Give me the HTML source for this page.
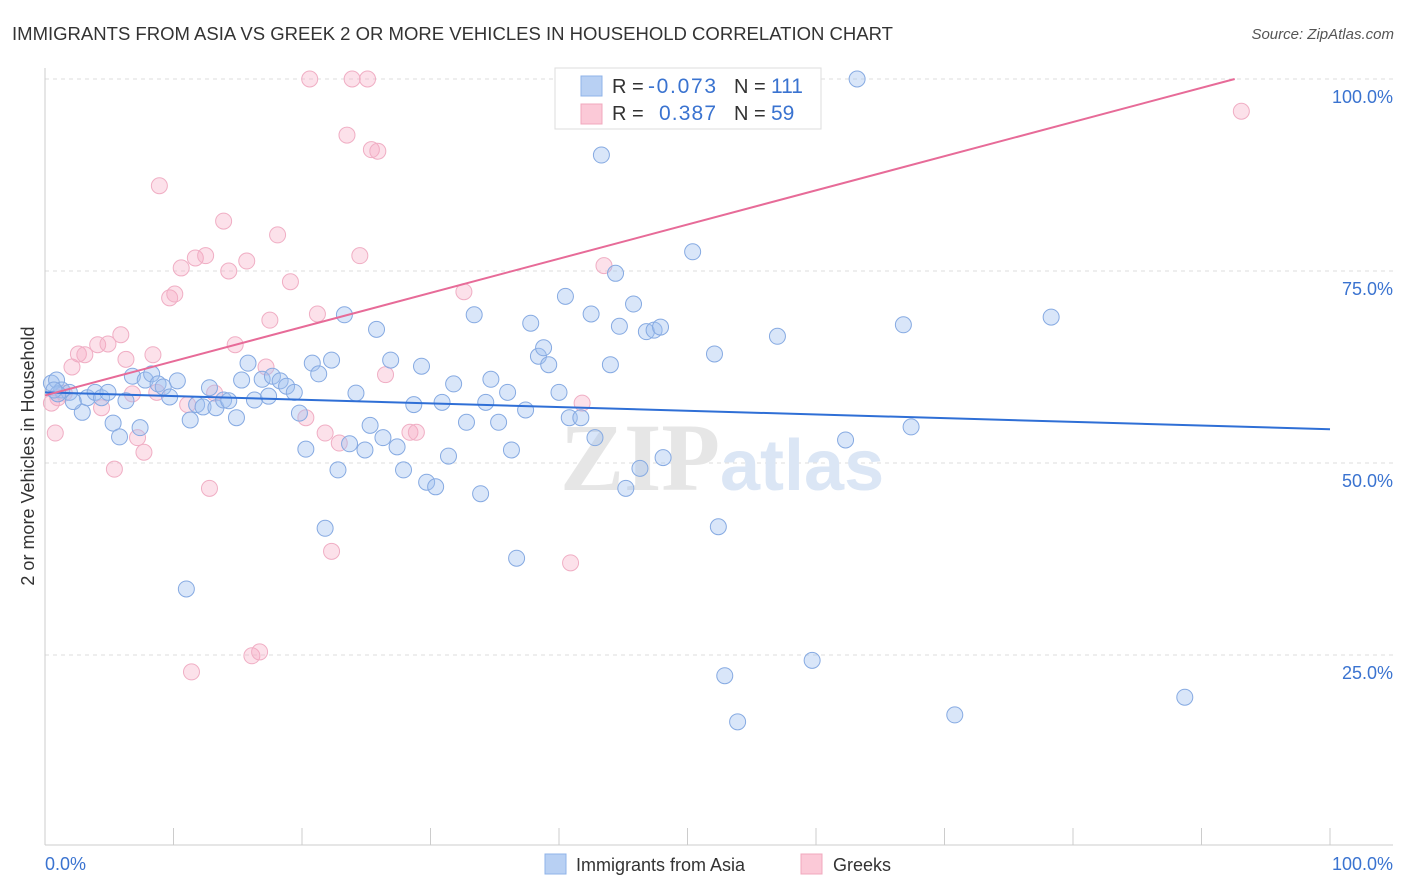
<!DOCTYPE html>
<html><head><meta charset="utf-8"><style>
body{margin:0;background:#fff;font-family:"Liberation Sans",sans-serif}
svg{display:block}
</style></head><body>
<svg id="chart" width="1406" height="892">
<text x="12" y="40" font-size="18" fill="#333" textLength="881" lengthAdjust="spacingAndGlyphs">IMMIGRANTS FROM ASIA VS GREEK 2 OR MORE VEHICLES IN HOUSEHOLD CORRELATION CHART</text>
<text x="1394" y="39" font-size="15" fill="#555" font-style="italic" text-anchor="end">Source: ZipAtlas.com</text>
<g id="grid"></g>
<text x="720" y="490" font-size="96" fill="#e6e6e6" text-anchor="end" font-weight="bold" font-family="Liberation Serif, serif">ZIP</text>
<text x="720" y="490" font-size="72" fill="#dbe6f5" font-weight="bold">atlas</text>
<g id="pts"></g>
<g id="trends"></g>
<text transform="translate(34,456) rotate(-90)" font-size="18" fill="#333" text-anchor="middle">2 or more Vehicles in Household</text>
<text x="45" y="870" font-size="18" fill="#3a73d0">0.0%</text>
<text x="1393" y="870" font-size="18" fill="#3a73d0" text-anchor="end">100.0%</text>
<g>
<rect x="555" y="68" width="266" height="61" fill="#fff" stroke="#ddd"/>
<rect x="581" y="76" width="21" height="20" fill="#b8d0f3" stroke="#8fb3e8"/>
<rect x="581" y="104" width="21" height="20" fill="#fbc9d7" stroke="#f0a8bd"/>
<text x="612" y="93" font-size="20" fill="#333">R =</text>
<text x="648" y="93" font-size="21" fill="#3a73d0" textLength="68">-0.073</text>
<text x="734" y="93" font-size="20" fill="#333">N =</text>
<text x="771" y="93" font-size="21" fill="#3a73d0">111</text>
<text x="612" y="120" font-size="20" fill="#333">R =</text>
<text x="659" y="120" font-size="21" fill="#3a73d0" textLength="57">0.387</text>
<text x="734" y="120" font-size="20" fill="#333">N =</text>
<text x="771" y="120" font-size="21" fill="#3a73d0">59</text>
</g>
<g>
<rect x="545" y="854" width="21" height="20" fill="#b8d0f3" stroke="#8fb3e8"/>
<text x="576" y="871" font-size="18" fill="#333">Immigrants from Asia</text>
<rect x="801" y="854" width="21" height="20" fill="#fbc9d7" stroke="#f0a8bd"/>
<text x="833" y="871" font-size="18" fill="#333">Greeks</text>
</g>
</svg>
<script>
const blueX=[0.5,0.9,1.3,1.9,2.9,3.3,3.9,4.4,4.9,5.3,5.8,6.3,6.8,7.4,7.8,8.3,8.8,9.2,9.7,10.3,11.0,11.3,11.8,12.3,12.8,13.3,13.9,14.3,14.9,15.3,15.8,16.3,16.9,17.4,17.7,18.3,18.8,19.4,19.8,20.3,20.8,21.3,21.8,22.3,22.8,23.3,23.7,24.2,24.9,25.3,25.8,26.3,26.9,27.4,27.9,28.7,29.3,29.7,30.4,30.9,31.4,31.8,32.8,33.4,33.9,34.3,34.7,35.3,36.0,36.3,36.7,37.4,37.8,38.4,38.8,39.2,40.0,40.5,40.8,41.7,42.5,42.8,43.3,44.0,44.4,44.7,45.2,45.8,46.3,46.8,47.4,47.9,48.1,50.4,52.1,52.4,52.9,53.9,57.0,59.7,62.3,63.2,66.8,67.4,70.8,78.3,88.7,53.5,1.0,0.7,2.2];
const blueY=[60.4,60.8,59.5,59.2,56.6,58.5,59.2,58.5,59.2,55.2,53.4,58.1,61.3,54.6,60.8,61.6,60.3,59.9,58.6,60.7,33.6,55.6,57.6,57.3,59.8,57.2,58.2,58.1,55.9,60.8,63.0,58.2,60.9,58.7,61.3,60.7,60.0,59.2,56.5,51.8,63.0,61.6,41.5,63.4,49.1,69.3,52.5,59.1,51.7,54.9,67.4,53.3,63.4,52.1,49.1,57.6,62.6,47.5,46.9,57.9,50.9,60.3,55.3,69.3,46.0,57.9,60.9,55.3,59.2,51.7,37.6,56.9,68.2,63.9,65.0,62.8,59.2,71.7,55.9,55.9,69.4,53.3,90.1,62.8,74.7,67.8,46.7,70.7,49.3,67.1,67.3,67.7,50.7,77.5,64.2,41.7,22.3,16.3,66.5,24.3,53.0,100,68.0,54.7,17.2,69.0,19.5,100,59.0,59.5,58.0];
const pinkX=[0.5,0.8,1.0,1.5,2.1,2.6,3.1,4.1,4.4,4.9,5.4,5.9,6.3,6.8,7.2,7.7,8.4,8.7,8.9,9.7,10.1,10.6,11.1,11.4,11.7,12.5,12.8,13.2,13.9,14.3,14.8,15.7,16.1,16.7,17.2,17.5,18.1,19.1,20.3,20.6,21.2,21.8,22.3,22.9,23.5,23.9,24.5,25.1,25.4,25.9,26.5,28.4,28.9,32.6,40.9,41.8,43.5,56.3,93.1,51.8];
const pinkY=[57.8,53.9,58.5,59.1,62.5,64.2,64.1,65.4,57.2,65.5,49.2,66.7,63.5,59.0,53.3,51.4,64.1,59.2,86.1,71.5,72.0,75.4,57.6,22.8,76.7,77.0,46.7,59.1,81.5,75.0,65.4,76.3,24.9,25.4,62.5,68.6,79.7,73.6,55.9,100,69.4,53.9,38.5,52.6,92.7,100,77.0,100,90.8,90.6,61.5,54.0,54.0,72.3,37.0,57.8,75.7,100,95.8,100];
const blueTrend=[59.2,54.4];
const pinkTrend=[58.8,103.3];
const yTicks=[25,50,75,100];
const yTickLabels=["25.0%","50.0%","75.0%","100.0%"];
const xTicks=[0,10,20,30,40,50,60,70,80,90,100];

const NS="http://www.w3.org/2000/svg";
const sx=v=>45+v*12.85;
const sy=v=>847-v*7.68;
function mk(t,a,p){const e=document.createElementNS(NS,t);for(const k in a)e.setAttribute(k,a[k]);p.appendChild(e);return e;}
const grid=document.getElementById('grid');
yTicks.forEach((t,i)=>{
  const l=mk('line',{x1:45,x2:1393,y1:sy(t),y2:sy(t),stroke:'#ddd','stroke-dasharray':'4,4'},grid);
  
  
  const tx=mk('text',{x:1393,y:sy(t)+24,'font-size':18,fill:'#3a73d0','text-anchor':'end'},grid);
  tx.textContent=yTickLabels[i];
  
  
});
const ax=mk('line',{x1:45,x2:45,y1:68,y2:845,stroke:'#ccc'},grid);


const bx=mk('line',{x1:45,x2:1393,y1:845,y2:845,stroke:'#ccc'},grid);


xTicks.forEach(t=>{
  const l=mk('line',{x1:sx(t),x2:sx(t),y1:828,y2:845,stroke:'#ccc'},grid);
  
  
});
const pts=document.getElementById('pts');
pinkX.forEach((x,i)=>{
  const c=mk('circle',{cx:sx(x),cy:sy(pinkY[i]),r:8,fill:'rgba(246,170,196,0.35)',stroke:'#f0aec4','stroke-width':1},pts);
  
  
});
blueX.forEach((x,i)=>{
  const c=mk('circle',{cx:sx(x),cy:sy(blueY[i]),r:8,fill:'rgba(160,192,240,0.4)',stroke:'#86aae2','stroke-width':1},pts);
  
  
});
const tr=document.getElementById('trends');
const bl=mk('line',{x1:sx(0),y1:sy(blueTrend[0]),x2:sx(100),y2:sy(blueTrend[1]),stroke:'#2f6fd6','stroke-width':2},tr);


const xEnd=(100-pinkTrend[0])/(pinkTrend[1]-pinkTrend[0])*100;
const pl=mk('line',{x1:sx(0),y1:sy(pinkTrend[0]),x2:sx(xEnd),y2:sy(100),stroke:'#e76b98','stroke-width':2},tr);


</script>
</body></html>
